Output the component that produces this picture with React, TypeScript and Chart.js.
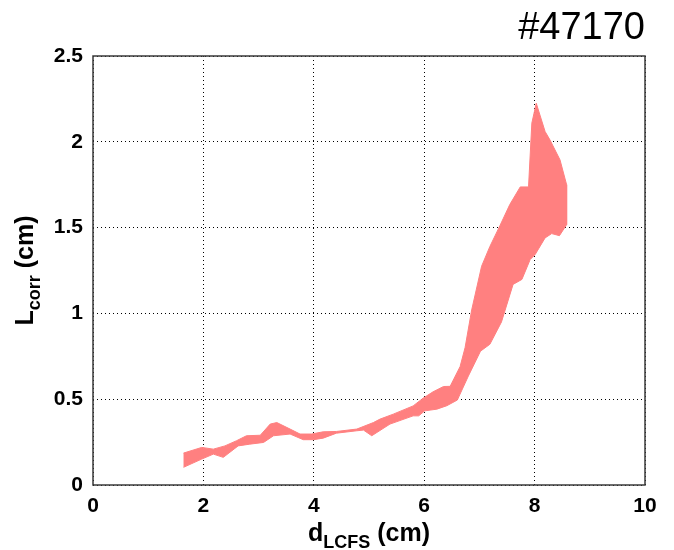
import React, { useEffect, useRef } from "react";
import { Chart, registerables } from "chart.js";

Chart.register(...registerables);

// Upper boundary of the band (ascending d_LCFS)
const upperX = [1.64, 1.97, 2.18, 2.39, 2.6, 2.78, 3.03, 3.21, 3.33, 3.57, 3.75, 3.96, 4.17, 4.41, 4.78, 5.08, 5.2, 5.44, 5.8, 5.98, 6.16, 6.35, 6.47, 6.65, 6.74, 6.86, 7.04, 7.19, 7.37, 7.55, 7.74, 7.89, 7.95, 8.03, 8.19, 8.28, 8.46, 8.58, 8.58];
const upperY = [0.186, 0.219, 0.209, 0.228, 0.258, 0.287, 0.29, 0.355, 0.364, 0.326, 0.297, 0.297, 0.31, 0.312, 0.326, 0.364, 0.384, 0.413, 0.461, 0.506, 0.543, 0.574, 0.575, 0.69, 0.8, 1.02, 1.275, 1.39, 1.51, 1.634, 1.737, 1.737, 2.109, 2.225, 2.06, 2.01, 1.895, 1.75, 1.517];

// Lower boundary of the band (ascending d_LCFS)
const lowerX = [1.64, 1.97, 2.18, 2.36, 2.63, 2.84, 3.09, 3.27, 3.57, 3.81, 3.99, 4.17, 4.41, 4.78, 4.9, 5.05, 5.38, 5.8, 5.9, 6.01, 6.23, 6.41, 6.6, 6.8, 7.02, 7.19, 7.4, 7.61, 7.77, 7.92, 8.01, 8.19, 8.31, 8.45, 8.58];
const lowerY = [0.103, 0.151, 0.18, 0.161, 0.228, 0.238, 0.248, 0.287, 0.297, 0.264, 0.264, 0.273, 0.302, 0.316, 0.32, 0.287, 0.355, 0.403, 0.403, 0.432, 0.442, 0.462, 0.495, 0.635, 0.78, 0.82, 0.95, 1.169, 1.198, 1.314, 1.343, 1.44, 1.465, 1.453, 1.517];

const xTickValues = [0, 2, 4, 6, 8, 10];
const yTickValues = [0, 0.5, 1, 1.5, 2, 2.5];

const titleText = "#47170";
const xLabelMain = "d";
const xLabelSub = "LCFS";
const xLabelUnit = " (cm)";
const yLabelMain = "L";
const yLabelSub = "corr";
const yLabelUnit = " (cm)";

const FONT = "'Liberation Sans', Arial, Helvetica, sans-serif";

const decorPlugin = {
  id: "decor",
  afterDraw(chart: any) {
    const ctx: CanvasRenderingContext2D = chart.ctx;
    const { left, right, top, bottom } = chart.chartArea;
    ctx.save();
    // box
    ctx.strokeStyle = "#3a3a3a";
    ctx.lineWidth = 1.5;
    ctx.setLineDash([]);
    ctx.strokeRect(left, top, right - left, bottom - top);

    // title
    ctx.fillStyle = "#000";
    ctx.font = `38px ${FONT}`;
    ctx.textAlign = "right";
    ctx.textBaseline = "alphabetic";
    ctx.fillText(titleText, right, 39);

    const mainFont = `bold 25px ${FONT}`;
    const subFont = `bold 18px ${FONT}`;
    ctx.textAlign = "left";

    // x label
    ctx.font = mainFont;
    const wM = ctx.measureText(xLabelMain).width;
    const wU = ctx.measureText(xLabelUnit).width;
    ctx.font = subFont;
    const wS = ctx.measureText(xLabelSub).width;
    const total = wM + wS + wU;
    const x0 = (left + right) / 2 - total / 2;
    const base = 541;
    ctx.font = mainFont;
    ctx.fillText(xLabelMain, x0, base);
    ctx.font = subFont;
    ctx.fillText(xLabelSub, x0 + wM, base + 7);
    ctx.font = mainFont;
    ctx.fillText(xLabelUnit, x0 + wM + wS, base);

    // y label (rotated)
    ctx.font = mainFont;
    const yM = ctx.measureText(yLabelMain).width;
    const yU = ctx.measureText(yLabelUnit).width;
    ctx.font = subFont;
    const yS = ctx.measureText(yLabelSub).width;
    const ytotal = yM + yS + yU;
    ctx.translate(33, (top + bottom) / 2);
    ctx.rotate(-Math.PI / 2);
    const s0 = -ytotal / 2;
    ctx.font = mainFont;
    ctx.fillText(yLabelMain, s0, 0);
    ctx.font = subFont;
    ctx.fillText(yLabelSub, s0 + yM, 7);
    ctx.font = mainFont;
    ctx.fillText(yLabelUnit, s0 + yM + yS, 0);
    ctx.restore();
  },
};

export default function App() {
  const canvasRef = useRef<HTMLCanvasElement | null>(null);

  useEffect(() => {
    document.body.style.margin = "0";
    const polygon = [
      ...upperX.map((x, i) => ({ x, y: upperY[i] })),
      ...lowerX.map((x, i) => ({ x, y: lowerY[i] })).reverse(),
    ];
    const chart = new Chart(canvasRef.current as HTMLCanvasElement, {
      type: "line",
      data: {
        datasets: [
          {
            data: polygon,
            borderColor: "rgb(255,128,128)",
            backgroundColor: "rgb(255,128,128)",
            borderWidth: 1,
            pointRadius: 0,
            fill: "shape",
            tension: 0,
          } as any,
        ],
      },
      options: {
        animation: false,
        responsive: true,
        maintainAspectRatio: false,
        layout: { padding: { left: 0, right: 29, top: 56, bottom: 35 } },
        plugins: { legend: { display: false }, tooltip: { enabled: false }, title: { display: false } },
        scales: {
          x: {
            type: "linear",
            min: 0,
            max: 10,
            z: 1,
            afterBuildTicks: (scale: any) => {
              scale.ticks = xTickValues.map((v) => ({ value: v }));
            },
            afterFit: (scale: any) => {
              scale.height = 30;
            },
            ticks: {
              padding: 9,
              color: "#000",
              font: { family: FONT, size: 21, weight: "bold" },
              maxRotation: 0,
              callback: (v: any) => String(v),
            },
            grid: { color: "#000", lineWidth: 1, drawTicks: false },
            border: { display: false, dash: [1, 3] },
          },
          y: {
            type: "linear",
            min: 0,
            max: 2.5,
            z: 1,
            afterBuildTicks: (scale: any) => {
              scale.ticks = yTickValues.map((v) => ({ value: v }));
            },
            afterFit: (scale: any) => {
              scale.width = 93;
            },
            ticks: {
              padding: 10,
              color: "#000",
              font: { family: FONT, size: 21, weight: "bold" },
              callback: (v: any) => String(v),
            },
            grid: { color: "#000", lineWidth: 1, drawTicks: false },
            border: { display: false, dash: [1, 3] },
          },
        },
      },
      plugins: [decorPlugin],
    } as any);
    return () => chart.destroy();
  }, []);

  return (
    <div style={{ position: "relative", width: 674, height: 550 }}>
      <canvas ref={canvasRef} />
    </div>
  );
}
